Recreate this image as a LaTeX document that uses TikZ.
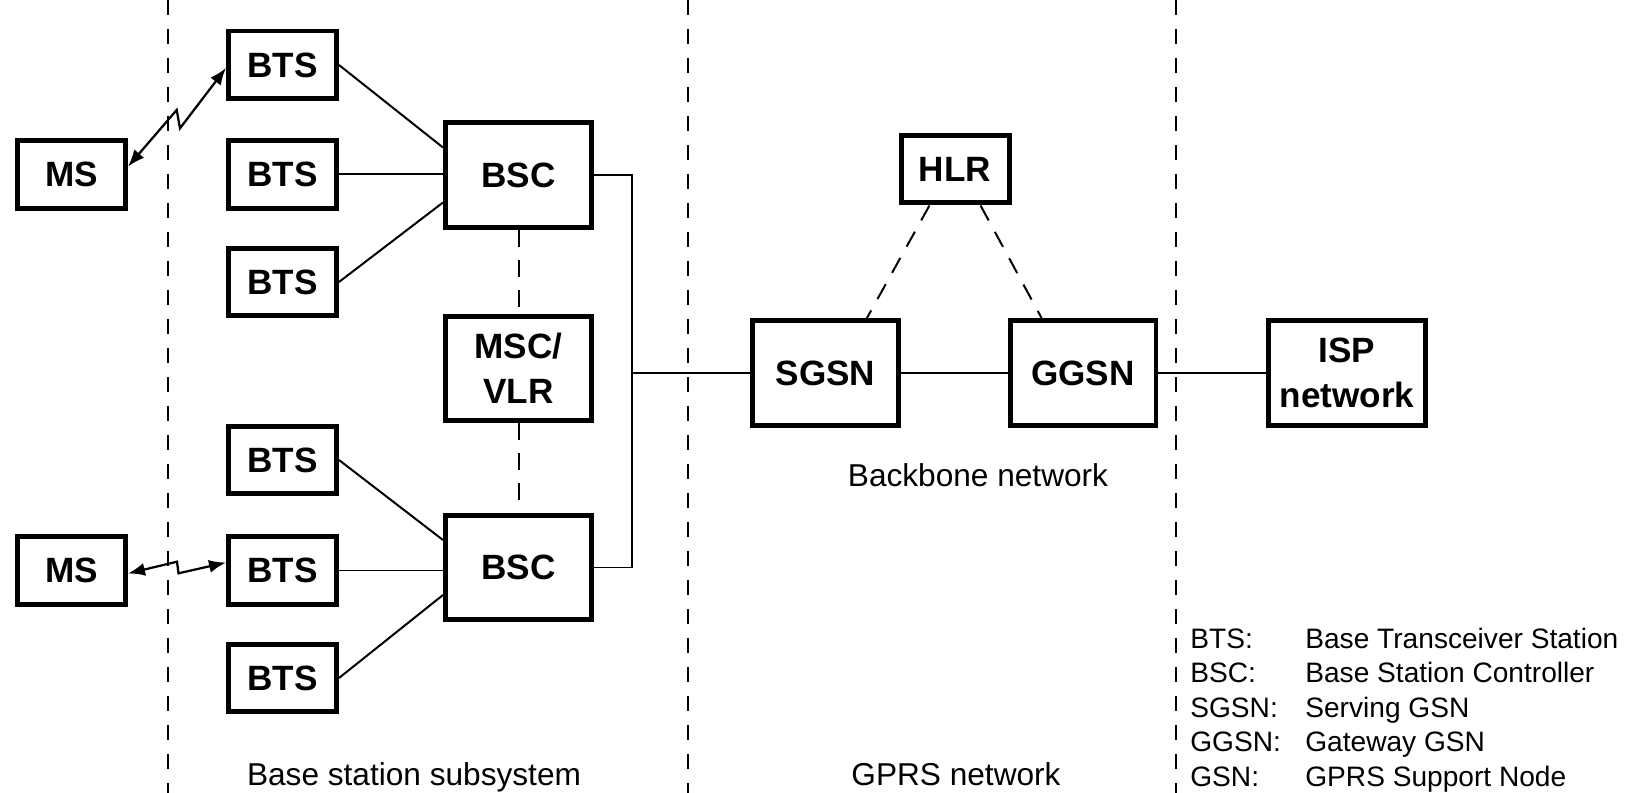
\documentclass[tikz,border=0pt]{standalone}
\usepackage{fontspec}
\setmainfont{Liberation Sans}
\usetikzlibrary{arrows.meta}

\tikzset{
    box/.style={draw=black, line width=0.1cm, minimum width=2.16cm, minimum height=1.36cm, inner sep=0pt, align=center, font=\bfseries\fontsize{20}{25.5}\selectfont},
    bigbox/.style={box, minimum width=2.92cm, minimum height=2.1cm},
    wire/.style={line width=0.04cm},
    link/.style={line width=0.04cm, dash pattern=on 0.34cm off 0.26cm},
    sep/.style={line width=0.045cm, dash pattern=on 0.3cm off 0.28cm},
    radio/.style={line width=0.045cm, {Latex[length=0.34cm,width=0.26cm]}-{Latex[length=0.34cm,width=0.26cm]}},
    area/.style={inner sep=0pt, anchor=base, font=\fontsize{18}{22}\selectfont}
}

\begin{document}
\begin{tikzpicture}[x=0.02cm, y=-0.02cm]
    \useasboundingbox (0,0) rectangle (1626,793);
    \draw[sep] (168,0) -- (168,793);
    \draw[sep] (688,0) -- (688,793);
    \draw[sep] (1176,0) -- (1176,793);
    \node[box] (ms1) at (71.5,174.5) {MS};
    \node[box] (ms2) at (71.5,570.5) {MS};
    \node[box] (bts1) at (282.5,65) {BTS};
    \node[box] (bts2) at (282.5,174.5) {BTS};
    \node[box] (bts3) at (282.5,282) {BTS};
    \node[box] (bts4) at (282.5,460) {BTS};
    \node[box] (bts5) at (282.5,570.5) {BTS};
    \node[box] (bts6) at (282.5,678) {BTS};
    \node[bigbox] (bsc1) at (518.5,175) {BSC};
    \node[bigbox] (msc) at (518.5,368.5) {MSC/\\VLR};
    \node[bigbox] (bsc2) at (518.5,567.5) {BSC};
    \node[box] (hlr) at (955,169) {HLR};
    \node[bigbox] (sgsn) at (825.5,373) {SGSN};
    \node[bigbox] (ggsn) at (1083,373) {GGSN};
    \node[bigbox, minimum width=3.14cm] (isp) at (1347,373) {ISP\\network};
    \coordinate (bus) at (632,373);
    \coordinate (z1) at (176.7,110);
    \coordinate (z2) at (180,128.3);
    \coordinate (z3) at (177,561.7);
    \coordinate (z4) at (178.5,573.3);
    \draw[radio] (ms1.8) -- (z1) -- (z2) -- (bts1.183);
    \draw[radio] (ms2.-3) -- (z3) -- (z4) -- (bts5.172);
    \draw[wire] (bts1.east) -- (bsc1.160);
    \draw[wire] (bts2.east) -- (bts2.east -| bsc1.west);
    \draw[wire] (bts3.east) -- (bsc1.200);
    \draw[wire] (bts4.east) -- (bsc2.160);
    \draw[wire] (bts5.east) -- (bts5.east -| bsc2.west);
    \draw[wire] (bts6.east) -- (bsc2.200);
    \draw[link] (bsc1.south) -- (msc.north);
    \draw[link] (msc.south) -- (bsc2.north);
    \draw[wire] (bsc1.east) -| (bus) -- (sgsn.west);
    \draw[wire] (bsc2.east) -| (bus);
    \draw[wire] (sgsn.east) -- (ggsn.west);
    \draw[wire] (ggsn.east) -- (isp.west);
    \draw[link] (hlr.235) -- (sgsn.53);
    \draw[link] (hlr.305) -- (ggsn.127);
    \node[area] (backbone) at (978,487) {Backbone network};
    \node[area] (bss) at (414,785) {Base station subsystem};
    \node[area] (gprs) at (956,785) {GPRS network};
    \node[inner sep=0pt, anchor=base west, font=\fontsize{16}{19.7}\selectfont] (legend) at (1190,648) {%
        \begin{tabular}[t]{@{}p{2.3cm}@{}l@{}}
        BTS: & Base Transceiver Station\\
        BSC: & Base Station Controller\\
        SGSN: & Serving GSN\\
        GGSN: & Gateway GSN\\
        GSN: & GPRS Support Node
        \end{tabular}};
\end{tikzpicture}
\end{document}
